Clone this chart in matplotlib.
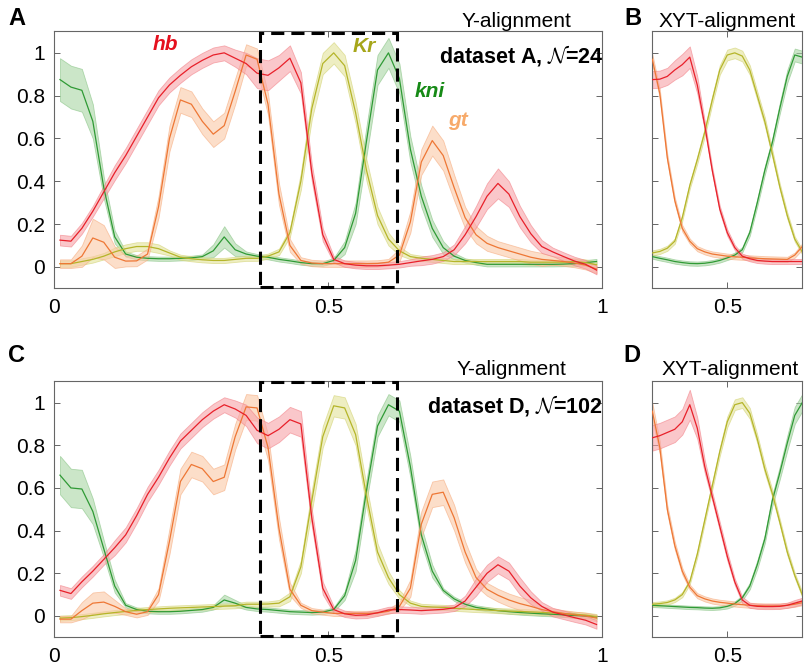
import numpy as np
import matplotlib
matplotlib.use('Agg')
import matplotlib.pyplot as plt
from matplotlib.patches import Rectangle

plt.rcParams['font.family'] = ['Liberation Sans', 'DejaVu Sans']
plt.rcParams['mathtext.fontset'] = 'cm'

# sample positions (fraction of egg length)
x_full = np.round(np.arange(0.01, 1.0, 0.02), 2)
x_zoom = np.round(np.arange(0.375, 0.6251, 0.0125), 4)

genes = ['hb', 'Kr', 'kni', 'gt']

# ---- dataset A, Y-alignment (panel A)
hb_A = [0.125, 0.12, 0.18, 0.26, 0.35, 0.44, 0.52, 0.61, 0.70, 0.79, 0.85, 0.895, 0.935, 0.965, 0.99, 1.0, 0.975,
        0.95, 0.905, 0.895, 0.93, 0.975, 0.86, 0.44, 0.15, 0.035, 0.015, 0.008, 0.005, 0.005, 0.008, 0.012, 0.02,
        0.028, 0.035, 0.048, 0.08, 0.15, 0.235, 0.33, 0.39, 0.34, 0.235, 0.155, 0.095, 0.07, 0.048, 0.027, 0.012, -0.015]
hb_A_err = [0.025, 0.025, 0.025, 0.025, 0.03, 0.035, 0.035, 0.035, 0.035, 0.035, 0.035, 0.035, 0.035, 0.035, 0.035, 0.035, 0.04,
            0.05, 0.07, 0.07, 0.06, 0.06, 0.05, 0.04, 0.03, 0.015, 0.015, 0.015, 0.015, 0.015, 0.015, 0.015, 0.015,
            0.02, 0.02, 0.02, 0.025, 0.04, 0.05, 0.06, 0.07, 0.06, 0.05, 0.04, 0.03, 0.02, 0.02, 0.02, 0.02, 0.02]
Kr_A = [0.015, 0.015, 0.025, 0.035, 0.05, 0.07, 0.085, 0.095, 0.095, 0.085, 0.065, 0.045, 0.038, 0.033, 0.03, 0.03, 0.035,
        0.04, 0.04, 0.05, 0.07, 0.16, 0.40, 0.74, 0.95, 1.0, 0.94, 0.72, 0.45, 0.24, 0.13, 0.075, 0.048,
        0.04, 0.035, 0.03, 0.025, 0.025, 0.025, 0.025, 0.025, 0.025, 0.025, 0.022, 0.022, 0.022, 0.022, 0.025, 0.02, 0.01]
Kr_A_err = [0.015, 0.015, 0.015, 0.015, 0.015, 0.02, 0.02, 0.02, 0.02, 0.02, 0.012, 0.012, 0.012, 0.012, 0.012, 0.012, 0.012,
            0.012, 0.012, 0.012, 0.015, 0.02, 0.04, 0.05, 0.05, 0.05, 0.05, 0.05, 0.05, 0.04, 0.03, 0.02, 0.012,
            0.012, 0.012, 0.012, 0.012, 0.012, 0.012, 0.012, 0.012, 0.012, 0.012, 0.012, 0.012, 0.012, 0.012, 0.015, 0.015, 0.015]
kni_A = [0.875, 0.84, 0.825, 0.68, 0.37, 0.14, 0.06, 0.045, 0.04, 0.038, 0.038, 0.04, 0.042, 0.048, 0.075, 0.14, 0.08,
         0.06, 0.05, 0.045, 0.035, 0.028, 0.02, 0.015, 0.015, 0.03, 0.09, 0.25, 0.59, 0.92, 1.0, 0.88, 0.55,
         0.33, 0.18, 0.09, 0.05, 0.03, 0.02, 0.012, 0.012, 0.012, 0.012, 0.012, 0.012, 0.012, 0.013, 0.015, 0.02, 0.025]
kni_A_err = [0.1, 0.1, 0.1, 0.08, 0.05, 0.03, 0.012, 0.01, 0.01, 0.01, 0.01, 0.01, 0.01, 0.01, 0.03, 0.05, 0.03,
             0.012, 0.01, 0.01, 0.01, 0.01, 0.01, 0.01, 0.01, 0.012, 0.03, 0.05, 0.07, 0.07, 0.07, 0.07, 0.06,
             0.05, 0.04, 0.03, 0.015, 0.01, 0.01, 0.01, 0.01, 0.01, 0.01, 0.01, 0.01, 0.01, 0.01, 0.012, 0.012, 0.012]
gt_A = [0.015, 0.015, 0.05, 0.135, 0.115, 0.045, 0.027, 0.028, 0.06, 0.28, 0.60, 0.78, 0.76, 0.68, 0.62, 0.66, 0.82,
        0.99, 0.97, 0.76, 0.34, 0.10, 0.03, 0.018, 0.015, 0.015, 0.015, 0.015, 0.015, 0.016, 0.022, 0.055, 0.21,
        0.49, 0.59, 0.52, 0.37, 0.23, 0.15, 0.11, 0.09, 0.075, 0.06, 0.045, 0.035, 0.03, 0.025, 0.018, 0.008, -0.01]
gt_A_err = [0.02, 0.02, 0.05, 0.09, 0.08, 0.05, 0.025, 0.025, 0.025, 0.05, 0.06, 0.06, 0.06, 0.06, 0.06, 0.06, 0.06,
            0.05, 0.05, 0.05, 0.05, 0.03, 0.015, 0.015, 0.015, 0.015, 0.015, 0.015, 0.015, 0.015, 0.015, 0.03, 0.05,
            0.06, 0.07, 0.07, 0.06, 0.05, 0.04, 0.035, 0.03, 0.03, 0.03, 0.03, 0.03, 0.02, 0.02, 0.02, 0.02, 0.02]

# ---- dataset A, XYT-alignment (panel B)
hb_B = [0.875, 0.877, 0.89, 0.92, 0.945, 0.98, 0.85, 0.66, 0.45, 0.27, 0.16, 0.09, 0.05, 0.038, 0.03, 0.027,
        0.025, 0.025, 0.025, 0.025, 0.025]
hb_B_err = [0.04, 0.04, 0.04, 0.045, 0.05, 0.05, 0.04, 0.02, 0.015, 0.015, 0.015, 0.012, 0.012, 0.012, 0.012,
            0.012, 0.012, 0.012, 0.012, 0.012, 0.012]
Kr_B = [0.065, 0.072, 0.087, 0.12, 0.23, 0.38, 0.50, 0.63, 0.78, 0.92, 0.99, 1.0, 0.985, 0.92, 0.80, 0.68,
        0.53, 0.375, 0.24, 0.13, 0.07]
Kr_B_err = [0.012, 0.012, 0.012, 0.012, 0.015, 0.015, 0.018, 0.02, 0.02, 0.022, 0.025, 0.025, 0.025, 0.022, 0.02,
            0.02, 0.018, 0.015, 0.015, 0.012, 0.012]
kni_B = [0.048, 0.04, 0.033, 0.025, 0.02, 0.016, 0.015, 0.017, 0.022, 0.03, 0.042, 0.055, 0.08, 0.16, 0.30, 0.45,
         0.58, 0.74, 0.89, 0.99, 0.98]
kni_B_err = [0.01, 0.01, 0.01, 0.01, 0.01, 0.01, 0.01, 0.01, 0.01, 0.01, 0.01, 0.012, 0.012, 0.015, 0.018, 0.02,
             0.02, 0.025, 0.03, 0.03, 0.03]
gt_B = [0.97, 0.81, 0.51, 0.31, 0.18, 0.12, 0.085, 0.07, 0.06, 0.055, 0.05, 0.047, 0.045, 0.042, 0.04, 0.038,
        0.037, 0.036, 0.035, 0.055, 0.095]
gt_B_err = [0.025, 0.02, 0.018, 0.015, 0.015, 0.012, 0.012, 0.012, 0.012, 0.012, 0.012, 0.012, 0.012, 0.012, 0.012,
            0.012, 0.012, 0.012, 0.012, 0.012, 0.015]

# ---- dataset D, Y-alignment (panel C)
hb_C = [0.12, 0.105, 0.16, 0.21, 0.265, 0.32, 0.38, 0.47, 0.57, 0.65, 0.74, 0.82, 0.87, 0.92, 0.96, 0.99, 0.97,
        0.94, 0.87, 0.845, 0.875, 0.92, 0.90, 0.46, 0.13, 0.03, 0.01, 0.003, 0.005, 0.015, 0.028, 0.03, 0.028,
        0.025, 0.028, 0.031, 0.038, 0.07, 0.135, 0.20, 0.24, 0.21, 0.14, 0.085, 0.045, 0.018, 0.005, -0.008, -0.02, -0.04]
hb_C_err = [0.025, 0.025, 0.025, 0.025, 0.025, 0.035, 0.035, 0.035, 0.035, 0.035, 0.035, 0.035, 0.035, 0.035, 0.035, 0.035, 0.04,
            0.05, 0.06, 0.06, 0.06, 0.06, 0.06, 0.04, 0.03, 0.015, 0.015, 0.015, 0.015, 0.015, 0.015, 0.015, 0.015,
            0.015, 0.015, 0.015, 0.015, 0.025, 0.04, 0.04, 0.04, 0.04, 0.04, 0.03, 0.02, 0.02, 0.02, 0.02, 0.02, 0.02]
Kr_C = [-0.01, -0.008, -0.003, 0.003, 0.01, 0.016, 0.021, 0.026, 0.03, 0.033, 0.036, 0.038, 0.04, 0.042, 0.044, 0.046, 0.048,
        0.055, 0.055, 0.056, 0.06, 0.09, 0.23, 0.54, 0.84, 0.985, 0.975, 0.85, 0.56, 0.30, 0.18, 0.10, 0.06,
        0.045, 0.042, 0.04, 0.036, 0.033, 0.03, 0.028, 0.025, 0.023, 0.021, 0.019, 0.017, 0.014, 0.011, 0.008, 0.004, -0.003]
Kr_C_err = [0.012, 0.012, 0.012, 0.012, 0.012, 0.012, 0.012, 0.012, 0.012, 0.012, 0.012, 0.012, 0.012, 0.012, 0.012, 0.012, 0.012,
            0.012, 0.012, 0.012, 0.015, 0.02, 0.03, 0.05, 0.05, 0.05, 0.05, 0.05, 0.05, 0.04, 0.03, 0.02, 0.012,
            0.012, 0.012, 0.012, 0.012, 0.012, 0.012, 0.012, 0.012, 0.012, 0.012, 0.012, 0.012, 0.012, 0.012, 0.012, 0.012, 0.012]
kni_C = [0.66, 0.60, 0.595, 0.49, 0.315, 0.14, 0.05, 0.03, 0.022, 0.02, 0.02, 0.022, 0.026, 0.03, 0.04, 0.075, 0.06,
         0.04, 0.033, 0.03, 0.025, 0.02, 0.018, 0.016, 0.018, 0.03, 0.095, 0.26, 0.59, 0.89, 0.99, 0.96, 0.70,
         0.38, 0.21, 0.12, 0.08, 0.055, 0.04, 0.032, 0.025, 0.02, 0.016, 0.013, 0.01, 0.008, 0.005, 0.002, 0.0, -0.005]
kni_C_err = [0.09, 0.09, 0.09, 0.06, 0.04, 0.03, 0.01, 0.01, 0.01, 0.01, 0.01, 0.01, 0.01, 0.01, 0.01, 0.025, 0.015,
             0.01, 0.01, 0.01, 0.01, 0.01, 0.01, 0.01, 0.01, 0.01, 0.02, 0.05, 0.05, 0.05, 0.05, 0.05, 0.05,
             0.04, 0.03, 0.01, 0.01, 0.01, 0.01, 0.01, 0.01, 0.01, 0.01, 0.01, 0.01, 0.01, 0.01, 0.01, 0.01, 0.01]
gt_C = [-0.015, -0.015, 0.025, 0.06, 0.065, 0.045, 0.02, 0.008, 0.02, 0.10, 0.35, 0.63, 0.71, 0.69, 0.63, 0.65, 0.84,
        0.98, 0.975, 0.79, 0.41, 0.125, 0.05, 0.025, 0.018, 0.012, 0.012, 0.012, 0.012, 0.014, 0.022, 0.045, 0.13,
        0.43, 0.57, 0.58, 0.46, 0.30, 0.18, 0.125, 0.097, 0.075, 0.058, 0.045, 0.03, 0.02, 0.012, 0.005, 0.0, -0.01]
gt_C_err = [0.015, 0.015, 0.04, 0.05, 0.05, 0.03, 0.015, 0.015, 0.015, 0.03, 0.06, 0.06, 0.06, 0.06, 0.06, 0.06, 0.06,
            0.06, 0.06, 0.06, 0.05, 0.03, 0.012, 0.012, 0.012, 0.012, 0.012, 0.012, 0.012, 0.012, 0.012, 0.02, 0.04,
            0.06, 0.06, 0.06, 0.06, 0.05, 0.04, 0.03, 0.03, 0.03, 0.03, 0.03, 0.015, 0.015, 0.015, 0.015, 0.015, 0.015]

# ---- dataset D, XYT-alignment (panel D)
hb_D = [0.835, 0.845, 0.86, 0.875, 0.91, 0.99, 0.88, 0.70, 0.56, 0.42, 0.28, 0.16, 0.075, 0.05, 0.045, 0.044,
        0.044, 0.045, 0.05, 0.06, 0.07]
hb_D_err = [0.06, 0.06, 0.06, 0.06, 0.06, 0.07, 0.05, 0.03, 0.02, 0.02, 0.02, 0.015, 0.015, 0.012, 0.012, 0.012,
            0.012, 0.012, 0.012, 0.015, 0.015]
Kr_D = [0.055, 0.058, 0.063, 0.075, 0.10, 0.16, 0.29, 0.45, 0.61, 0.77, 0.91, 0.99, 1.0, 0.95, 0.83, 0.69,
        0.575, 0.44, 0.30, 0.19, 0.10]
Kr_D_err = [0.01, 0.01, 0.01, 0.01, 0.012, 0.012, 0.015, 0.015, 0.018, 0.02, 0.025, 0.025, 0.025, 0.025, 0.02, 0.02,
            0.018, 0.015, 0.015, 0.012, 0.012]
kni_D = [0.05, 0.048, 0.046, 0.044, 0.042, 0.04, 0.039, 0.037, 0.036, 0.038, 0.045, 0.058, 0.085, 0.14, 0.24, 0.36,
         0.54, 0.67, 0.81, 0.94, 1.0]
kni_D_err = [0.008, 0.008, 0.008, 0.008, 0.008, 0.008, 0.008, 0.008, 0.008, 0.008, 0.01, 0.01, 0.012, 0.015, 0.02, 0.02,
             0.025, 0.03, 0.035, 0.04, 0.04]
gt_D = [0.96, 0.79, 0.50, 0.33, 0.21, 0.135, 0.095, 0.08, 0.07, 0.064, 0.06, 0.056, 0.053, 0.05, 0.048, 0.047,
        0.047, 0.047, 0.05, 0.055, 0.062]
gt_D_err = [0.04, 0.03, 0.02, 0.018, 0.015, 0.012, 0.012, 0.012, 0.012, 0.012, 0.012, 0.012, 0.012, 0.012, 0.012,
            0.012, 0.012, 0.012, 0.012, 0.012, 0.012]

# line colour, band colour, band edge colour, label colour
colors = {
    'hb': ('#e8202a', '#f8a3a8', '#f27f86', '#e5101e'),
    'Kr': ('#b5b52a', '#e3e39a', '#d2d271', '#a6a61a'),
    'kni': ('#2f9a35', '#a9d6a4', '#86c383', '#168a16'),
    'gt': ('#ee7735', '#fbc9a6', '#f6aa7c', '#f7aa6a'),
}

W, H = 805, 669


def px(x, y):
    return x / W, 1 - y / H


def draw_profiles(ax, x, data):
    for g in ['kni', 'Kr', 'gt', 'hb']:
        m, e = np.array(data[g][0]), np.array(data[g][1])
        line_c, band_c, edge_c, _ = colors[g]
        ax.fill_between(x, m - e, m + e, facecolor=band_c, edgecolor=edge_c,
                        linewidth=0.6, alpha=0.6, zorder=2)
        ax.plot(x, m, color=line_c, lw=0.9, zorder=3)


def style_axes(ax, xlim, xticks, ylabels):
    ax.set_xlim(*xlim)
    ax.set_ylim(-0.1, 1.1)
    ax.set_xticks(xticks)
    ax.set_xticklabels(['{:g}'.format(t) for t in xticks])
    ax.set_yticks([0, 0.2, 0.4, 0.6, 0.8, 1])
    if ylabels:
        ax.set_yticklabels(['0', '0.2', '0.4', '0.6', '0.8', '1'])
    else:
        ax.set_yticklabels([])
    ax.tick_params(direction='in', length=4, width=0.7, colors='#666666',
                   labelcolor='black', labelsize=15, pad=7,
                   top=True, right=True)
    for s in ax.spines.values():
        s.set_color('#666666')
        s.set_linewidth(0.8)


def dashed_box(ax):
    r = Rectangle((0.375, -0.095), 0.25, 1.19, fill=False, edgecolor='black',
                  linewidth=2.2, linestyle=(0, (4.3, 2.3)), zorder=5, clip_on=False)
    ax.add_patch(r)


def main():
    fig = plt.figure(figsize=(8.05, 6.69), dpi=100)
    fig.patch.set_facecolor('white')

    axA = fig.add_axes([0.0677, 0.5691, 0.6801, 0.3839])
    axB = fig.add_axes([0.8103, 0.5691, 0.1863, 0.3839])
    axC = fig.add_axes([0.0677, 0.0474, 0.6801, 0.3827])
    axD = fig.add_axes([0.8103, 0.0474, 0.1863, 0.3827])

    draw_profiles(axA, x_full, {'hb': (hb_A, hb_A_err), 'Kr': (Kr_A, Kr_A_err),
                                'kni': (kni_A, kni_A_err), 'gt': (gt_A, gt_A_err)})
    draw_profiles(axB, x_zoom, {'hb': (hb_B, hb_B_err), 'Kr': (Kr_B, Kr_B_err),
                                'kni': (kni_B, kni_B_err), 'gt': (gt_B, gt_B_err)})
    draw_profiles(axC, x_full, {'hb': (hb_C, hb_C_err), 'Kr': (Kr_C, Kr_C_err),
                                'kni': (kni_C, kni_C_err), 'gt': (gt_C, gt_C_err)})
    draw_profiles(axD, x_zoom, {'hb': (hb_D, hb_D_err), 'Kr': (Kr_D, Kr_D_err),
                                'kni': (kni_D, kni_D_err), 'gt': (gt_D, gt_D_err)})

    for ax in (axA, axC):
        style_axes(ax, (0, 1), [0, 0.5, 1], True)
        dashed_box(ax)
    for ax in (axB, axD):
        style_axes(ax, (0.375, 0.625), [0.5], False)

    # panel letters and titles
    fig.text(*px(8, 25), 'A', fontsize=17, fontweight='bold', va='baseline')
    fig.text(*px(8, 362), 'C', fontsize=17, fontweight='bold', va='baseline')
    fig.text(*px(624, 25), 'B', fontsize=17, fontweight='bold', va='baseline')
    fig.text(*px(623, 362), 'D', fontsize=17, fontweight='bold', va='baseline')
    fig.text(*px(462, 27), 'Y-alignment', fontsize=15, va='baseline')
    fig.text(*px(457, 375), 'Y-alignment', fontsize=15, va='baseline')
    fig.text(*px(727, 27), 'XYT-alignment', fontsize=15, va='baseline', ha='center')
    fig.text(*px(730, 375), 'XYT-alignment', fontsize=15, va='baseline', ha='center')
    fig.text(*px(604, 63), r'dataset A, $\mathcal{N}$=24', fontsize=15.5,
             fontweight='bold', va='baseline', ha='right')
    fig.text(*px(603, 412), r'dataset D, $\mathcal{N}$=102', fontsize=15.5,
             fontweight='bold', va='baseline', ha='right')

    # gene names
    label_pos = {'hb': (153, 50), 'Kr': (353, 52), 'kni': (415, 97), 'gt': (448, 126)}
    for g in genes:
        fig.text(*px(*label_pos[g]), g, fontsize=15, fontweight='bold', fontstyle='italic',
                 color=colors[g][3], va='baseline')

    fig.savefig('out.png', dpi=100)


if __name__ == "__main__":
    main()
